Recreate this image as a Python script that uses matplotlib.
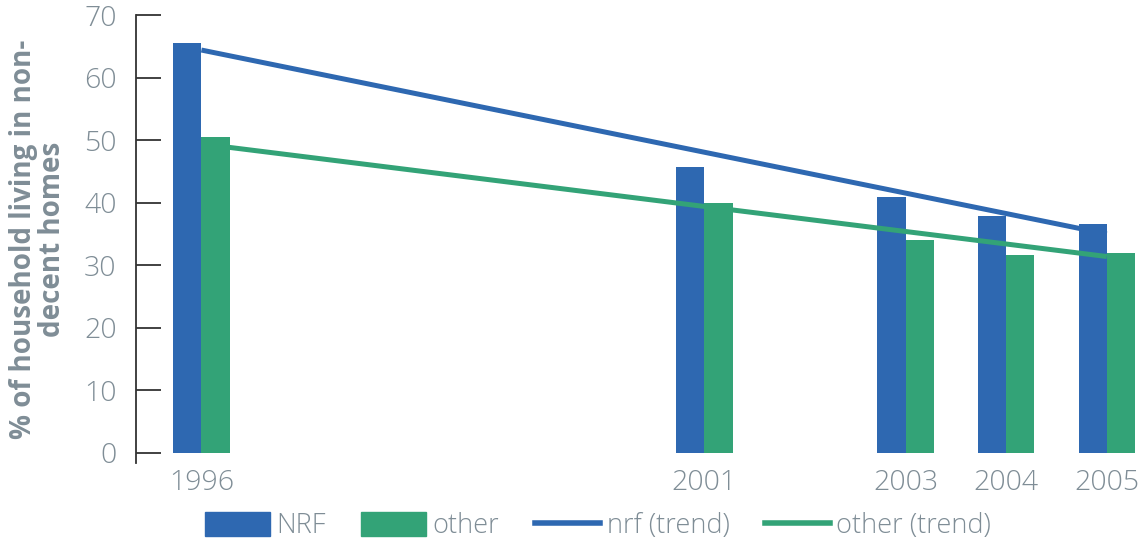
import numpy as np
import matplotlib
matplotlib.use("Agg")
import matplotlib.pyplot as plt
from matplotlib.patches import Patch
from matplotlib.lines import Line2D

years = [1996, 2001, 2003, 2004, 2005]
nrf = [65.5, 45.7, 40.9, 37.9, 36.6]
other = [50.5, 40.0, 34.0, 31.6, 32.0]
trend_years = [1996, 2005]
nrf_trend = [64.4, 35.0]
other_trend = [49.4, 31.4]
yticks = [0, 10, 20, 30, 40, 50, 60, 70]

BLUE = "#2e68b1"
GREEN = "#33a377"
GRAY = "#7f8d96"

plt.rcParams['font.family'] = ['Open Sans', 'DejaVu Sans']

fig = plt.figure(figsize=(11.44, 5.42), dpi=100)
ax = fig.add_axes([136/1144, 1-463/542, (1140-136)/1144, (463-15)/542])

w = 0.28
x = np.array(years, dtype=float)
ax.bar(x - w/2, nrf, width=w, color=BLUE, zorder=2)
ax.bar(x + w/2, other, width=w, color=GREEN, zorder=2)
ax.plot(trend_years, nrf_trend, color=BLUE, lw=3.6, zorder=3, solid_capstyle='butt')
ax.plot(trend_years, other_trend, color=GREEN, lw=3.6, zorder=3, solid_capstyle='butt')

ax.set_xlim(1995.35, 2005.33)
ax.set_ylim(-1.6, 70)
ax.set_yticks(yticks)
ax.set_xticks(years)
ax.set_xticklabels([str(y) for y in years])
for s in ['top', 'right', 'bottom']:
    ax.spines[s].set_visible(False)
ax.spines['left'].set_color('#333333')
ax.spines['left'].set_linewidth(1.3)
ax.tick_params(axis='y', direction='in', length=18, width=1.3, color='#333333',
               labelsize=20.5, labelcolor=GRAY, pad=14)
ax.tick_params(axis='x', length=0, labelsize=20.5, labelcolor=GRAY, pad=4)
for lab in ax.get_xticklabels() + ax.get_yticklabels():
    lab.set_fontweight('light')
ax.set_ylabel("% of household living in non-\ndecent homes", fontsize=20,
              fontweight='bold', color=GRAY, linespacing=1.0, labelpad=12)

handles = [Patch(color=BLUE), Patch(color=GREEN),
           Line2D([], [], color=BLUE, lw=4), Line2D([], [], color=GREEN, lw=4)]
labels = ["NRF", "other", "nrf (trend)", "other (trend)"]
leg = fig.legend(handles, labels, loc='center', bbox_to_anchor=(598/1144, 1-526/542),
                 ncol=4, frameon=False, fontsize=19.5, labelcolor=GRAY,
                 handlelength=2.4, handleheight=1.0, handletextpad=0.25, columnspacing=1.3)
for t in leg.get_texts():
    t.set_fontweight('light')

fig.savefig("out.png", dpi=100)
